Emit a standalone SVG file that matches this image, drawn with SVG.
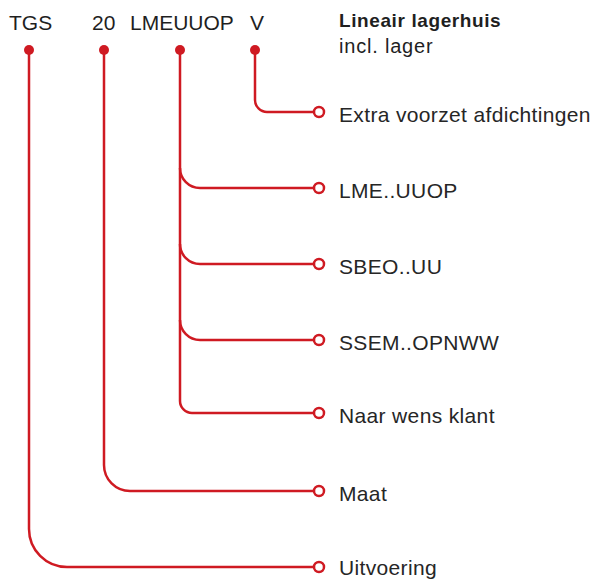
<svg xmlns="http://www.w3.org/2000/svg" width="595" height="579" viewBox="0 0 595 579">
<style>
.t{font-family:"Liberation Sans",Arial,sans-serif;font-size:21px;letter-spacing:0.35px;fill:#262626}
.h{font-family:"Liberation Sans",Arial,sans-serif;font-size:21px;fill:#1f1f1f}
.c{fill:none;stroke:#cf1a22;stroke-width:2.5}
.d{fill:#cf1a22}
.e{fill:#fff;stroke:#cf1a22;stroke-width:2.5}
</style>
<rect width="595" height="579" fill="#fff"/>
<g id="header">
<text class="h" x="9" y="30">TGS</text>
<text class="h" x="92" y="30">20</text>
<text class="h" x="130" y="30">LMEUUOP</text>
<text class="h" x="250" y="30">V</text>
<text class="h" x="339" y="27" style="font-weight:bold;font-size:19px;letter-spacing:0.6px">Lineair lagerhuis</text>
<text class="h" x="339" y="53" style="font-size:20px;letter-spacing:0.8px">incl. lager</text>
</g>
<g id="connectors">
<path class="c" d="M255 50 V100 A12 12 0 0 0 267 112 H314"/>
<path class="c" d="M180 50 V401 A12 12 0 0 0 192 413 H314"/>
<path class="c" d="M180 168 A20 20 0 0 0 200 188 H314"/>
<path class="c" d="M180 244 A20 20 0 0 0 200 264 H314"/>
<path class="c" d="M180 320 A20 20 0 0 0 200 340 H314"/>
<path class="c" d="M104 50 V465 A26 26 0 0 0 130 491 H314"/>
<path class="c" d="M29 50 V529 A38 38 0 0 0 67 567 H314"/>
</g>
<g id="dots">
<circle class="d" cx="29" cy="50" r="5"/>
<circle class="d" cx="104" cy="50" r="5"/>
<circle class="d" cx="180" cy="50" r="5"/>
<circle class="d" cx="255" cy="50" r="5"/>
</g>
<g id="n1"><circle class="e" cx="319" cy="112" r="5"/><text class="t" x="339" y="122">Extra voorzet afdichtingen</text></g>
<g id="n2"><circle class="e" cx="319" cy="188" r="5"/><text class="t" x="339" y="198">LME..UUOP</text></g>
<g id="n3"><circle class="e" cx="319" cy="264" r="5"/><text class="t" x="339" y="274">SBEO..UU</text></g>
<g id="n4"><circle class="e" cx="319" cy="340" r="5"/><text class="t" x="339" y="350">SSEM..OPNWW</text></g>
<g id="n5"><circle class="e" cx="319" cy="413" r="5"/><text class="t" x="339" y="423">Naar wens klant</text></g>
<g id="n6"><circle class="e" cx="319" cy="491" r="5"/><text class="t" x="339" y="501">Maat</text></g>
<g id="n7"><circle class="e" cx="319" cy="567" r="5"/><text class="t" x="339" y="575">Uitvoering</text></g>
</svg>
